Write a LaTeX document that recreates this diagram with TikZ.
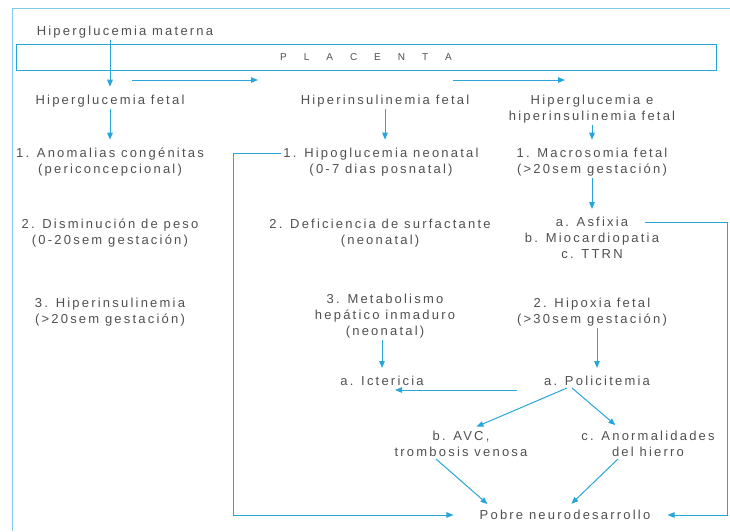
\documentclass[tikz,border=0pt]{standalone}
\usepackage{fontspec}
\setmainfont[LetterSpace=17]{Liberation Sans}
\usepackage{tikz}
\usetikzlibrary{positioning, calc, arrows.meta}
\definecolor{flecha}{RGB}{38,166,218}
\definecolor{texto}{RGB}{80,80,80}

\begin{document}
\begin{tikzpicture}[x=1pt, y=-1pt,
    txt/.style={align=center, text=texto, inner sep=2pt, font=\fontsize{13}{16}\selectfont},
    linea/.style={draw=flecha, line width=1pt},
    arr/.style={linea, -{Triangle[length=7pt, width=5.5pt]}},
    bajar/.style={arr, shorten >=6pt}]

      \useasboundingbox (0,0) rectangle (730,531);
      \draw[flecha!60, line width=1pt] (12,531) -- (12,8) -- (730,8);

      \node[txt] (HM) at (125,32) {Hiperglucemia materna};
      \node[linea, minimum width=700pt, minimum height=26pt, text=texto, font=\fontsize{10}{12}\selectfont] (PL) at (366,57) {P\hspace{17pt}L\hspace{17pt}A\hspace{17pt}C\hspace{17pt}E\hspace{17pt}N\hspace{17pt}T\hspace{17pt}A};

      \node[txt] (HF) at (110,101) {Hiperglucemia fetal};
      \node[txt] (HI) at (385,101) {Hiperinsulinemia fetal};
      \node[txt] (HGI) at (592,109) {Hiperglucemia e\\hiperinsulinemia fetal};

      \node[txt] (A1) at (110,162) {1. Anomalias congénitas\\(periconcepcional)};
      \node[txt] (H1) at (381,162) {1. Hipoglucemia neonatal\\(0-7 dias posnatal)};
      \node[txt] (M1) at (592,162) {1. Macrosomia fetal\\(>20sem gestación)};

      \node[txt] (A2) at (110,233) {2. Disminución de peso\\(0-20sem gestación)};
      \node[txt] (D2) at (380,233) {2. Deficiencia de surfactante\\(neonatal)};
      \node[txt] (ASF) at (592,238) {a. Asfixia\\b. Miocardiopatia\\c. TTRN};

      \node[txt] (A3) at (110,312) {3. Hiperinsulinemia\\(>20sem gestación)};
      \node[txt] (MET) at (385,316) {3. Metabolismo\\hepático inmaduro\\(neonatal)};
      \node[txt] (HIP) at (592,312) {2. Hipoxia fetal\\(>30sem gestación)};

      \node[txt] (ICT) at (382,381) {a. Ictericia};
      \node[txt] (POL) at (597,381) {a. Policitemia};

      \node[txt] (AVC) at (461,444) {b. AVC,\\trombosis venosa};
      \node[txt] (ANO) at (648,444) {c. Anormalidades\\del hierro};

      \node[txt] (PN) at (565,515) {Pobre neurodesarrollo};

      \coordinate (f1) at (132,80);
      \coordinate (f2) at (258,80);
      \coordinate (f3) at (453,80);
      \coordinate (f4) at (565,80);
      \coordinate (asf) at (645,222);
      \draw[arr] (f1) -- (f2);
      \draw[arr] (f3) -- (f4);

      \draw[bajar] (HM.south -| HF.north) -- (HF.north);
      \draw[bajar] (node cs:name=HF) -- (node cs:name=A1);
      \draw[bajar] (HI.south) -- (HI.south |- H1.north);
      \draw[bajar] (node cs:name=HGI) -- (node cs:name=M1);
      \draw[bajar] (node cs:name=M1) -- (node cs:name=ASF);
      \draw[bajar] (MET.south -| ICT.north) -- (ICT.north);
      \draw[bajar] (HIP.south -| POL.north) -- (POL.north);

      \draw[arr] ([xshift=-25pt,yshift=-9pt]POL.west) -- ([xshift=13pt,yshift=-9pt]ICT.center);
      \draw[bajar] ([xshift=-30pt]POL.south) -- ([xshift=10pt]AVC.north);
      \draw[bajar] ([xshift=-25pt]POL.south) -- ([xshift=-28pt]ANO.north);
      \draw[bajar] ([xshift=-25pt]AVC.south) -- ([xshift=-73pt]PN.north);
      \draw[bajar] ([xshift=-30pt]ANO.south) -- ([xshift=2pt]PN.north);

      \draw[arr, shorten >=24pt] ([yshift=9pt]H1.west) -- ++(-48,0) |- (PN.west);
      \draw[arr, shorten >=15pt] (asf) -- ++(82,0) |- (PN.east);
\end{tikzpicture}
\end{document}
